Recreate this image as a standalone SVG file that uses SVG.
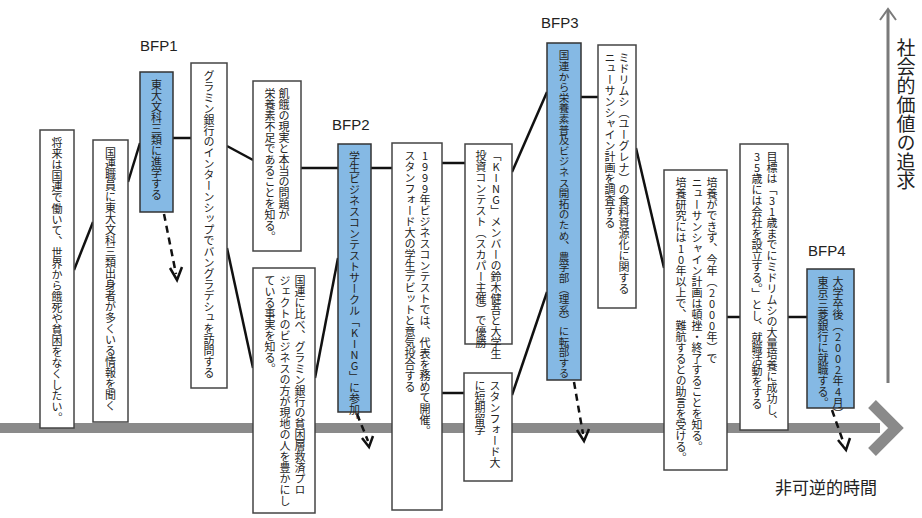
<svg xmlns="http://www.w3.org/2000/svg" width="922" height="518" viewBox="0 0 922 518">
<style>
.box{fill:#fff;stroke:#444;stroke-width:1.5}
.bfp{fill:#85b9e4;stroke:#333;stroke-width:1.5}
.vt{font-family:"Noto Sans CJK JP","Noto Sans",sans-serif;font-size:11px;fill:#222;writing-mode:vertical-rl;text-orientation:upright}
.lbl{font-family:"Liberation Sans",Arial,sans-serif;font-size:15px;fill:#222}
.ln{stroke:#111;stroke-width:2.5;fill:none}
.dash{stroke:#111;stroke-width:2.5;fill:none;stroke-dasharray:7 5}
.head{stroke:#111;stroke-width:2.5;fill:none}
</style>
<g id="axes">
<rect x="0" y="423" width="880" height="10" fill="#8a8a8a"/>
<polyline points="872,404 896,428 872,452" fill="none" stroke="#8a8a8a" stroke-width="11"/>
<line x1="888" y1="383" x2="888" y2="10" stroke="#7a7a7a" stroke-width="3"/>
<polyline points="880,20 888,9 896,20" fill="none" stroke="#7a7a7a" stroke-width="2"/>
<text x="906" y="38" style="font-family:'Noto Sans CJK JP',sans-serif;font-size:19px;fill:#222;writing-mode:vertical-rl">社会的価値の追求</text>
<text x="775" y="494" style="font-family:'Noto Sans CJK JP',sans-serif;font-size:17px;fill:#222">非可逆的時間</text>
</g>
<g id="connectors">
<line class="ln" x1="74" y1="270" x2="93" y2="222"/>
<line class="ln" x1="128" y1="182" x2="140" y2="143"/>
<line class="ln" x1="173" y1="138" x2="191" y2="138"/>
<line class="ln" x1="227" y1="146" x2="253" y2="160"/>
<line class="ln" x1="227" y1="248" x2="253" y2="368"/>
<line class="ln" x1="301" y1="168" x2="338" y2="168"/>
<line class="ln" x1="315" y1="378" x2="338" y2="258"/>
<line class="ln" x1="371" y1="168" x2="392" y2="168"/>
<line class="ln" x1="442" y1="163" x2="465" y2="163"/>
<line class="ln" x1="442" y1="393" x2="464" y2="393"/>
<line class="ln" x1="512" y1="172" x2="547" y2="92"/>
<line class="ln" x1="512" y1="395" x2="547" y2="292"/>
<line class="ln" x1="581" y1="97" x2="598" y2="97"/>
<line class="ln" x1="636" y1="148" x2="664" y2="268"/>
<line class="ln" x1="727" y1="317" x2="740" y2="317"/>
<line class="ln" x1="788" y1="317" x2="807" y2="317"/>
<line class="dash" x1="164" y1="214" x2="176" y2="274"/>
<polyline class="head" points="170,268 177,280 182,267"/>
<line class="dash" x1="357" y1="414" x2="368" y2="441"/>
<polyline class="head" points="362,438 369,447 373,436"/>
<line class="dash" x1="574" y1="382" x2="583" y2="434"/>
<polyline class="head" points="577,430 584,441 589,429"/>
<line class="dash" x1="832" y1="410" x2="844" y2="444"/>
<polyline class="head" points="838,440 846,450 850,438"/>
</g>
<g id="n1"><rect class="box" x="40" y="130" width="34" height="298"/><text class="vt" x="57" y="137">将来は国連で働いて、世界から餓死や貧困をなくしたい。</text></g>
<g id="n2"><rect class="box" x="93" y="140" width="35" height="282"/><text class="vt" x="110.5" y="147">国連職員に東大文科三類出身者が多くいる情報を聞く</text></g>
<g id="bfp1"><text class="lbl" x="140" y="51">BFP1</text><rect class="bfp" x="140" y="72" width="33" height="140"/><text class="vt" x="156.5" y="79">東大文科三類に進学する</text></g>
<g id="n3"><rect class="box" x="191" y="63" width="36" height="325"/><text class="vt" x="209" y="70">グラミン銀行のインターンシップでバングラデシュを訪問する</text></g>
<g id="n4"><rect class="box" x="253" y="81" width="48" height="170"/><text class="vt" x="284" y="88">飢餓の現実と本当の問題が</text><text class="vt" x="270" y="88">栄養素不足であることを知る。</text></g>
<g id="n5"><rect class="box" x="253" y="268" width="62" height="245"/><text class="vt" x="300" y="275">国連に比べ、グラミン銀行の貧困層救済プロ</text><text class="vt" x="285" y="275">ジェクトのビジネスの方が現地の人を豊かにし</text><text class="vt" x="270" y="275">ている事実を知る。</text></g>
<g id="bfp2"><text class="lbl" x="332" y="130">BFP2</text><rect class="bfp" x="338" y="144" width="33" height="268"/><text class="vt" x="354.5" y="151">学生ビジネスコンテストサークル「KING」に参加。</text></g>
<g id="n6"><rect class="box" x="392" y="143" width="50" height="367"/><text class="vt" x="425" y="150">1999年ビジネスコンテストでは、代表を務めて開催。</text><text class="vt" x="410" y="150">スタンフォード大の学生デビットと意気投合する</text></g>
<g id="n7"><rect class="box" x="465" y="144" width="47" height="200"/><text class="vt" x="496" y="150">「KING」メンバーの鈴木健吾と大学生</text><text class="vt" x="481" y="150">投資コンテスト（スカパー主催）で優勝</text></g>
<g id="n8"><rect class="box" x="464" y="373" width="48" height="108"/><text class="vt" x="495" y="380">スタンフォード大</text><text class="vt" x="480" y="380">に短期留学</text></g>
<g id="bfp3"><text class="lbl" x="541" y="28">BFP3</text><rect class="bfp" x="547" y="43" width="34" height="337"/><text class="vt" x="564" y="50" style="font-size:10.6px">国連から栄養素普及ビジネス開拓のため、農学部（理系）に転部する</text></g>
<g id="n9"><rect class="box" x="598" y="45" width="38" height="263"/><text class="vt" x="624" y="52">ミドリムシ（ユーグレナ）の食料資源化に関する</text><text class="vt" x="610" y="52">ニューサンシャイン計画を調査する</text></g>
<g id="n10"><rect class="box" x="664" y="170" width="63" height="300"/><text class="vt" x="712" y="177">培養ができず、今年（2000年）で</text><text class="vt" x="697" y="177">ニューサンシャイン計画は頓挫・終了することを知る。</text><text class="vt" x="681" y="177">培養研究には10年以上で、難航するとの助言を受ける。</text></g>
<g id="n11"><rect class="box" x="740" y="144" width="48" height="286"/><text class="vt" x="772" y="151">目標は「31歳までにミドリムシの大量培養に成功し、</text><text class="vt" x="757" y="151">35歳には会社を設立する。」とし、就職活動をする</text></g>
<g id="bfp4"><text class="lbl" x="808" y="256">BFP4</text><rect class="bfp" x="807" y="269" width="47" height="139"/><text class="vt" x="838" y="276">大学卒後（2002年4月）</text><text class="vt" x="823" y="276">東京三菱銀行に就職する。</text></g>
</svg>
